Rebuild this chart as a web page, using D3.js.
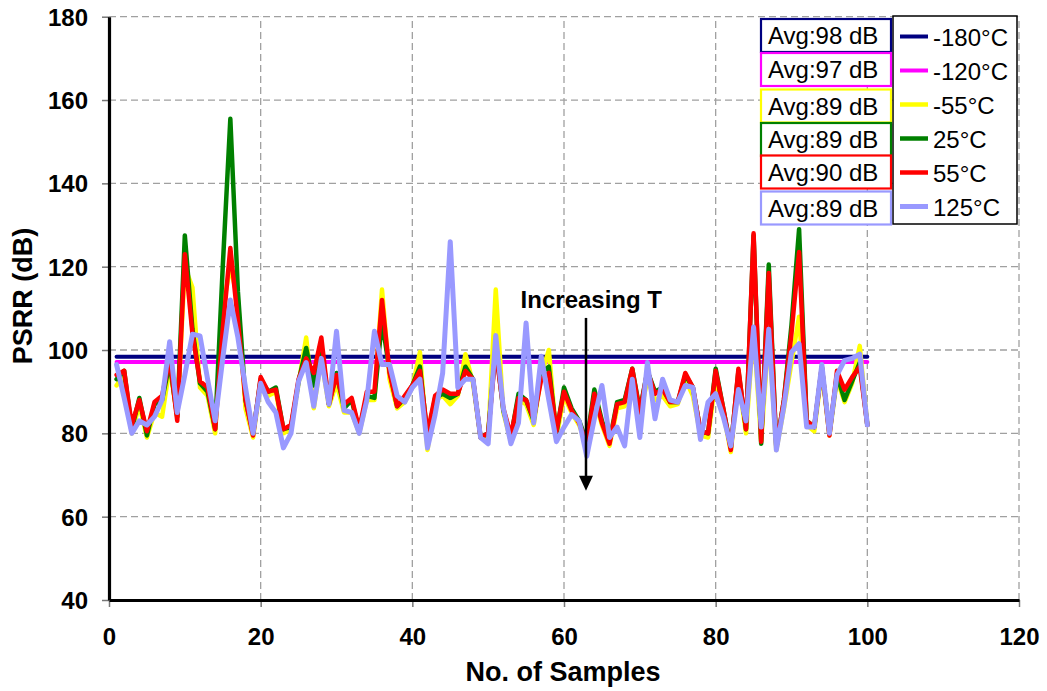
<!DOCTYPE html>
<html><head><meta charset="utf-8">
<script src="https://cdn.jsdelivr.net/npm/d3@7"></script>
<style>body{margin:0;background:#fff} text{font-family:"Liberation Sans",Arial,Helvetica,sans-serif}</style>
</head><body><svg id="c" width="1047" height="691"></svg>
<script>
// ---------------- data ----------------
const samples = d3.range(1, 101);
const seriesNames = ["-180°C", "-120°C", "-55°C", "25°C", "55°C", "125°C"];
const avgLabels = ["Avg:98 dB", "Avg:97 dB", "Avg:89 dB", "Avg:89 dB", "Avg:90 dB", "Avg:89 dB"];
const xTicks = [0, 20, 40, 60, 80, 100, 120];
const yTicks = [40, 60, 80, 100, 120, 140, 160, 180];
const xTitle = "No. of Samples";
const yTitle = "PSRR (dB)";
const noteText = "Increasing T";

const psrrM180 = [98.4,98.4,98.4,98.4,98.4,98.4,98.4,98.4,98.4,98.4, 98.4,98.4,98.4,98.4,98.4,98.4,98.4,98.4,98.4,98.4,
  98.4,98.4,98.4,98.4,98.4,98.4,98.4,98.4,98.4,98.4, 98.4,98.4,98.4,98.4,98.4,98.4,98.4,98.4,98.4,98.4,
  98.4,98.4,98.4,98.4,98.4,98.4,98.4,98.4,98.4,98.4, 98.4,98.4,98.4,98.4,98.4,98.4,98.4,98.4,98.4,98.4,
  98.4,98.4,98.4,98.4,98.4,98.4,98.4,98.4,98.4,98.4, 98.4,98.4,98.4,98.4,98.4,98.4,98.4,98.4,98.4,98.4,
  98.4,98.4,98.4,98.4,98.4,98.4,98.4,98.4,98.4,98.4, 98.4,98.4,98.4,98.4,98.4,98.4,98.4,98.4,98.4,98.4];
const psrrM120 = [97.1,97.1,97.1,97.1,97.1,97.1,97.1,97.1,97.1,97.1, 97.1,97.1,97.1,97.1,97.1,97.1,97.1,97.1,97.1,97.1,
  97.1,97.1,97.1,97.1,97.1,97.1,97.1,97.1,97.1,97.1, 97.1,97.1,97.1,97.1,97.1,97.1,97.1,97.1,97.1,97.1,
  97.1,97.1,97.1,97.1,97.1,97.1,97.1,97.1,97.1,97.1, 97.1,97.1,97.1,97.1,97.1,97.1,97.1,97.1,97.1,97.1,
  97.1,97.1,97.1,97.1,97.1,97.1,97.1,97.1,97.1,97.1, 97.1,97.1,97.1,97.1,97.1,97.1,97.1,97.1,97.1,97.1,
  97.1,97.1,97.1,97.1,97.1,97.1,97.1,97.1,97.1,97.1, 97.1,97.1,97.1,97.1,97.1,97.1,97.1,97.1,97.1,97.1];
const psrrM55 = [91.5,94,80,87,79,85,84,96,84,120, 115,91,89,80,110,120,112,86,79,92,
  89,90,80,81,92,103,86,98,86.5,92, 85,85,80,88,88,114.5,93,86,87.5,91,
  99.5,76,88,89,87,89,99,92,79,79, 114.5,85,78,88,87,82,94,100,79,89,
  85,82,77,88.5,82,77,86,86.5,94,84, 93,88,89,86.5,87,93,89,79.5,79,93,
  85,75.5,93,80,105,78,104,76,86,97, 108,82,80.5,95,79.5,93,87.5,92,101,82];
const psrrP25 = [93,95,81,88.5,79.5,87,88,97,84,127.5, 105,92,90,81,120,155.5,114,88,80,93,
  90,91,81,81.5,92.5,100.5,91.5,101,87,94.5, 86,88,80.5,89,88.5,107,95,86.5,88.5,91.5,
  96,79,88.5,89.5,88.5,89.5,96,93,79,80, 101,85.5,79,89.5,88,83,94.5,96,80,91,
  86,83,78,90.5,83,78,87.5,88,95.5,85.5, 95,90,91,87.5,87.5,94,91,80.5,80,95.5,
  86,76.5,95,81,127.5,77.5,120.5,76.5,88,106, 129,83,81.5,96,80,94,88,92.5,97,82];
const psrrP55 = [94,95,82,88,80.5,87.5,89,98,83,123, 104,92.5,91,81,105,124.5,107,88,79.5,93.5,
  90,90.5,81,82,93,98,94.5,103,87,94, 87,88.5,81,90,90,112,94.5,86.5,89,91.5,
  95,80,89,90.5,89.5,89.5,95,93,79,80, 100,86,79.5,88.5,88,83.5,93,94.5,80.5,90,
  85.5,82.5,77.5,89.5,82.5,77.5,87,87.5,95.5,85, 95,89.5,90.5,87.5,87.5,94.5,91,80.5,80,95,
  86,76,95.5,81,128,78,118.5,76.5,88,104, 123.5,83,81.5,96,79.5,95,90.5,93.5,96,82];
const psrrP125 = [96.5,88.5,80,83,82,84,88,102,85,94, 103.8,103.4,93,83,98,112,103,91,80,92,
  87.5,85,76.5,80,92.5,97,86.5,98,87,104.5, 85.5,85,80,88,104.5,96.5,96.5,89,87.5,91,
  93,76.5,84.5,94.5,126,91,93,93,79,77.5, 103.5,86,77.5,82.5,106.5,82.5,98.5,88,78,81.5,
  84.5,83,74.5,83.5,91.5,79,81.5,77,93,79, 97,83.5,93,88,87.5,91.5,91,78.5,87.5,89.5,
  84,77,90.5,83,105.5,81.5,105,76,86.5,99.5, 101.5,81.5,81.5,96.5,80,94,97.5,98,99,82];

// annotation (data units)
const arrowX = 62.9, arrowTop = 107.7, arrowTip = 66.2;
const noteX = 63.6, noteY = 110;

// ---------------- styles ----------------
const colors = ["#000080", "#FF00FF", "#FFFF00", "#008000", "#FF0000", "#9999FF"];
const widths = [4, 4, 4.5, 4.5, 4.5, 5];
const font = '"Liberation Sans",Arial,Helvetica,sans-serif';

const allSeries = [psrrM180, psrrM120, psrrM55, psrrP25, psrrP55, psrrP125];

const svg = d3.select("#c");
const x = d3.scaleLinear().domain([0, 120]).range([109, 1019]);
const y = d3.scaleLinear().domain([40, 180]).range([600, 16.7]);

// grid
const grid = svg.append("g").attr("stroke", "#a0a0a0").attr("stroke-width", 1.3).attr("stroke-dasharray", "7,4");
grid.selectAll(".hg").data(yTicks.filter(t => t > 40)).join("line")
  .attr("x1", x(0)).attr("x2", x(120)).attr("y1", d => y(d)).attr("y2", d => y(d));
grid.selectAll(".vg").data(xTicks.filter(t => t > 0)).join("line")
  .attr("y1", y(40)).attr("y2", y(180)).attr("x1", d => x(d)).attr("x2", d => x(d));

// series
const line = d3.line().x((d, i) => x(samples[i])).y(d => y(d));
svg.append("g").selectAll("path").data(allSeries).join("path")
  .attr("d", d => line(d))
  .attr("fill", "none")
  .attr("stroke", (d, i) => colors[i])
  .attr("stroke-width", (d, i) => widths[i])
  .attr("stroke-linejoin", "round")
  .attr("stroke-linecap", "round");

// axes
const yAxis = svg.append("g").attr("transform", `translate(${x(0)},0)`)
  .call(d3.axisLeft(y).tickValues(yTicks).tickSize(7).tickSizeOuter(0).tickPadding(14));
const xAxis = svg.append("g").attr("transform", `translate(0,${y(40)})`)
  .call(d3.axisBottom(x).tickValues(xTicks).tickSize(7).tickSizeOuter(0).tickPadding(21));
[xAxis, yAxis].forEach(a => {
  a.select(".domain").attr("stroke", "#000").attr("stroke-width", 3.2);
  a.selectAll(".tick line").attr("stroke", "#777").attr("stroke-width", 1.5);
  a.selectAll(".tick text").attr("font-family", font).attr("font-size", 24).attr("font-weight", "bold").attr("fill", "#000");
});
yAxis.selectAll(".tick text").attr("dy", "0.36em");
yAxis.select(".domain").raise();
xAxis.select(".domain").raise();

// axis titles
svg.append("text").attr("x", 563).attr("y", 681).attr("text-anchor", "middle")
  .attr("font-size", 27).attr("font-weight", "bold").text(xTitle);
svg.append("text").attr("transform", "translate(32,296) rotate(-90)").attr("text-anchor", "middle")
  .attr("font-size", 27).attr("font-weight", "bold").text(yTitle);

// annotation
svg.append("line").attr("x1", x(arrowX)).attr("x2", x(arrowX)).attr("y1", y(arrowTop)).attr("y2", y(arrowTip) - 12)
  .attr("stroke", "#000").attr("stroke-width", 2.5);
svg.append("path")
  .attr("d", `M${x(arrowX) - 7},${y(arrowTip) - 15} L${x(arrowX) + 7},${y(arrowTip) - 15} L${x(arrowX)},${y(arrowTip)} Z`)
  .attr("fill", "#000");
svg.append("text").attr("x", x(noteX)).attr("y", y(noteY)).attr("text-anchor", "middle")
  .attr("font-size", 24).attr("font-weight", "bold").text(noteText);

// legend
const lg = svg.append("g");
lg.append("rect").attr("x", 893).attr("y", 16).attr("width", 124).attr("height", 208)
  .attr("fill", "#fff").attr("stroke", "#000").attr("stroke-width", 1.5);
const rowY = i => 36.5 + i * 34;
seriesNames.forEach((name, i) => {
  lg.append("line").attr("x1", 900).attr("x2", 928).attr("y1", rowY(i)).attr("y2", rowY(i))
    .attr("stroke", colors[i]).attr("stroke-width", widths[i]);
  lg.append("text").attr("x", 933).attr("y", rowY(i) + 9).attr("font-size", 24).text(name);
});

// avg boxes
const ab = svg.append("g");
const boxY = [19, 53, 89.5, 123, 155.5, 191.5];
avgLabels.forEach((t, i) => {
  ab.append("rect").attr("x", 761).attr("y", boxY[i]).attr("width", 130).attr("height", 33)
    .attr("fill", "#fff").attr("stroke", colors[i]).attr("stroke-width", 2.2);
});
avgLabels.forEach((t, i) => {
  ab.append("text").attr("x", 768).attr("y", boxY[i] + 25).attr("font-size", 24).text(t);
});
</script></body></html>
